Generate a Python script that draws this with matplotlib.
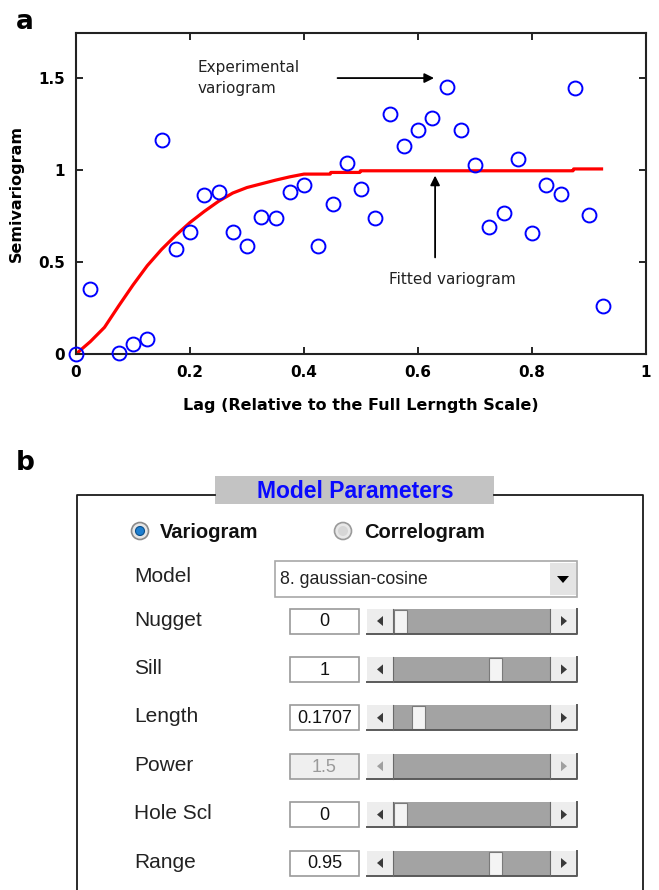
import matplotlib
matplotlib.use("Agg")
import matplotlib.pyplot as plt
from matplotlib.patches import Rectangle, Circle, Polygon

# ----------------------------
# Experimental variogram (lag, semivariance)
# ----------------------------
lag = [0, 0.025, 0.075, 0.1, 0.125, 0.15, 0.175, 0.2, 0.225, 0.25,
       0.275, 0.3, 0.325, 0.35, 0.375, 0.4, 0.425, 0.45, 0.475, 0.5,
       0.525, 0.55, 0.575, 0.6, 0.625, 0.65, 0.675, 0.7, 0.725, 0.75,
       0.775, 0.8, 0.825, 0.85, 0.875, 0.9, 0.925]
gamma = [0.0, 0.353, 0.007, 0.054, 0.08, 1.161, 0.571, 0.665, 0.862, 0.879,
         0.665, 0.589, 0.746, 0.737, 0.879, 0.917, 0.589, 0.813, 1.038, 0.899,
         0.739, 1.303, 1.132, 1.219, 1.284, 1.453, 1.219, 1.029, 0.690, 0.768,
         1.060, 0.656, 0.918, 0.871, 1.444, 0.757, 0.261]

# fitted model curve
fit_lag = [0, 0.025, 0.05, 0.075, 0.1, 0.125, 0.15, 0.175, 0.2, 0.225,
           0.25, 0.275, 0.3, 0.325, 0.35, 0.375, 0.4, 0.446, 0.447, 0.498,
           0.499, 0.872, 0.873, 0.922]
fit_gamma = [0, 0.067, 0.145, 0.262, 0.375, 0.48, 0.568, 0.645, 0.715, 0.775,
             0.83, 0.875, 0.905, 0.925, 0.945, 0.963, 0.978, 0.978, 0.987, 0.987,
             0.996, 0.996, 1.006, 1.006]

x_ticks = [0, 0.2, 0.4, 0.6, 0.8, 1]
x_ticklabels = ["0", "0.2", "0.4", "0.6", "0.8", "1"]
y_ticks = [0, 0.5, 1, 1.5]
y_ticklabels = ["0", "0.5", "1", "1.5"]

# ----------------------------
# GUI panel contents
# ----------------------------
model_name = "8. gaussian-cosine"
param_names = ["Nugget", "Sill", "Length", "Power", "Hole Scl", "Range"]
param_values = ["0", "1", "0.1707", "1.5", "0", "0.95"]
param_enabled = [True, True, True, False, True, True]
slider_pos = [0.01, 0.67, 0.13, None, 0.01, 0.67]   # fraction of trough

W, H = 659, 890
fig = plt.figure(figsize=(W / 100, H / 100), dpi=100)

# ----------------------------
# Panel b: model parameter dialog (pixel coordinates)
# ----------------------------
gui = fig.add_axes([0, 0, 1, 430 / H])
gui.set_xlim(0, W)
gui.set_ylim(H, H - 430)
gui.axis("off")

gfont = "Liberation Sans"
edge = "#1a1a1a"

# frame around the parameters
gui.plot([77, 77, 215], [H, 495, 495], color=edge, lw=1.3, clip_on=False)
gui.plot([494, 643, 643], [495, 495, H], color=edge, lw=1.3, clip_on=False)
gui.add_patch(Rectangle((215, 476), 279, 28, facecolor="#c3c3c3", edgecolor="none"))
gui.text(355, 491, "Model Parameters", color="#0a0aff", fontsize=16.5, fontweight="bold",
         family=gfont, ha="center", va="center")

# radio buttons
gui.add_patch(Circle((140, 531), 8.5, facecolor="#e6e6e6", edgecolor="#8a8a8a", lw=1.2))
gui.add_patch(Circle((140, 531), 4.5, facecolor="#1e7fd0", edgecolor="#0b4f8a", lw=0.8))
gui.text(160, 532, "Variogram", fontsize=14.5, fontweight="bold", family=gfont,
         ha="left", va="center", color="#111111")
gui.add_patch(Circle((343, 531), 8.5, facecolor="#e8e8e8", edgecolor="#9a9a9a", lw=1.2))
gui.add_patch(Circle((343, 531), 5, facecolor="#d6d6d6", edgecolor="none"))
gui.text(364, 532, "Correlogram", fontsize=14.5, fontweight="bold", family=gfont,
         ha="left", va="center", color="#111111")

# model popup menu
gui.text(134, 576, "Model", fontsize=15, family=gfont, ha="left", va="center",
         color="#222222")
gui.add_patch(Rectangle((275, 561), 302, 36, facecolor="white", edgecolor="#a8a8a8", lw=1.2))
gui.add_patch(Rectangle((550, 563), 26, 32, facecolor="#e4e4e4", edgecolor="none"))
gui.add_patch(Polygon([[557, 576], [569, 576], [563, 583]], closed=True,
                      facecolor="black", edgecolor="none"))
gui.text(280, 580, model_name, fontsize=12.8, family=gfont, ha="left", va="center",
         color="#222222")

# parameter rows: label, edit box and slider
row_y0, row_dy = 621, 48.4
box_h = 25
for i, (name, val) in enumerate(zip(param_names, param_values)):
    yc = row_y0 + i * row_dy
    top = yc - box_h / 2
    on = param_enabled[i]
    gui.text(134, yc - 1, name, fontsize=15, family=gfont, ha="left", va="center",
             color="#222222")
    gui.add_patch(Rectangle((290, top), 69, box_h,
                            facecolor="white" if on else "#efefef",
                            edgecolor="#9a9a9a", lw=1.2))
    gui.text(324.5, yc + 1, val, fontsize=13, family=gfont, ha="center", va="center",
             color="#111111" if on else "#9a9a9a")

    # slider body
    x0, x1 = 367, 577
    gui.add_patch(Rectangle((x0, top), x1 - x0, box_h, facecolor="#a3a3a3", edgecolor="none"))
    gui.add_patch(Rectangle((x0, top), 26, box_h, facecolor="#ededed", edgecolor="none"))
    gui.add_patch(Rectangle((x1 - 27, top), 27, box_h, facecolor="#ededed", edgecolor="none"))
    gui.plot([x0, x1, x1], [top + box_h, top + box_h, top], color="#5a5a5a", lw=1.4)
    gui.plot([393, 393], [top, top + box_h], color="#6a6a6a", lw=0.8)
    gui.plot([550, 550], [top, top + box_h], color="#6a6a6a", lw=0.8)
    arrow_c = "#3a3a3a" if on else "#a0a0a0"
    gui.add_patch(Polygon([[377, yc], [383, yc - 5], [383, yc + 5]], closed=True,
                          facecolor=arrow_c, edgecolor="none"))
    gui.add_patch(Polygon([[567, yc], [561, yc - 5], [561, yc + 5]], closed=True,
                          facecolor=arrow_c, edgecolor="none"))
    if slider_pos[i] is not None:
        tx = 393 + slider_pos[i] * (550 - 393 - 13)
        gui.add_patch(Rectangle((tx, top + 1), 13, box_h - 2, facecolor="#f4f4f4",
                                edgecolor="#7a7a7a", lw=0.8))

# ----------------------------
# Panel a: variogram plot
# ----------------------------
ax = fig.add_axes([76 / W, (H - 354) / H, 570 / W, 321 / H])
ax.plot(fit_lag, fit_gamma, color="#ff0000", lw=2.3, zorder=2)
ax.plot(lag, gamma, linestyle="none", marker="o", markersize=10,
        markerfacecolor="none", markeredgecolor="#0000ff", markeredgewidth=1.4,
        clip_on=False, zorder=3)

ax.set_xlim(0, 1)
ax.set_ylim(0, 1.745)
ax.set_xticks(x_ticks)
ax.set_xticklabels(x_ticklabels)
ax.set_yticks(y_ticks)
ax.set_yticklabels(y_ticklabels)
ax.tick_params(direction="in", length=5, width=1.2, top=True, right=True,
               labelsize=11, pad=8, colors="black")
for lbl in ax.get_xticklabels() + ax.get_yticklabels():
    lbl.set_fontweight("bold")
for sp in ax.spines.values():
    sp.set_linewidth(1.5)
    sp.set_color("#222222")

ax.set_xlabel("Lag (Relative to the Full Lerngth Scale)", fontsize=11.5,
              fontweight="bold", labelpad=13)
ax.set_ylabel("Semivariogram", fontsize=11.5, fontweight="bold", labelpad=10)

ax.annotate("", xy=(0.633, 1.5), xytext=(0.454, 1.5),
            arrowprops=dict(arrowstyle="-|>", color="black", lw=1.3,
                            mutation_scale=14))
ax.text(0.213, 1.5, "Experimental\nvariogram", fontsize=11, ha="left", va="center",
        linespacing=1.5, color="#222222")
ax.annotate("", xy=(0.63, 0.985), xytext=(0.63, 0.51),
            arrowprops=dict(arrowstyle="-|>", color="black", lw=1.3,
                            mutation_scale=14))
ax.text(0.66, 0.405, "Fitted variogram", fontsize=11, ha="center", va="center",
        color="#222222")

fig.text(16 / W, 1 - 22 / H, "a", fontsize=19, fontweight="bold", va="center")
fig.text(16 / W, 1 - 463 / H, "b", fontsize=19, fontweight="bold", va="center")

fig.savefig("out.png", dpi=100)
